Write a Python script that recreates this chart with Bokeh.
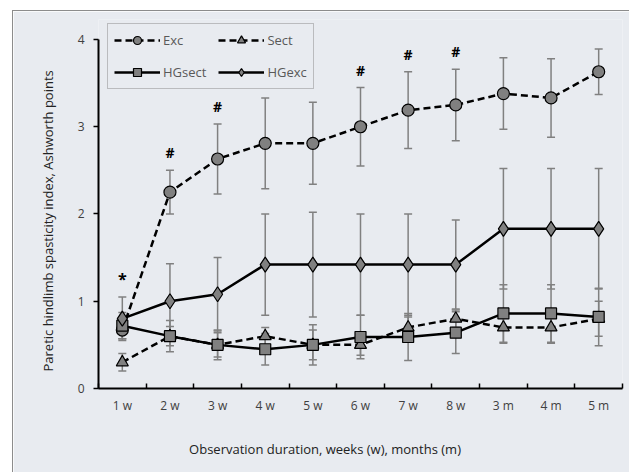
import numpy as np
from bokeh.plotting import figure
from bokeh.models import (ColumnDataSource, Whisker, TeeHead, FixedTicker, Legend, LegendItem, Range1d)
from bokeh.core.properties import value
from bokeh.embed import file_html
from bokeh.resources import INLINE

categories = ["1 w", "2 w", "3 w", "4 w", "5 w", "6 w", "7 w", "8 w", "3 m", "4 m", "5 m"]

exc = [0.67, 2.25, 2.63, 2.81, 2.81, 3.00, 3.19, 3.25, 3.38, 3.33, 3.63]
exc_err = [0.10, 0.25, 0.40, 0.52, 0.47, 0.45, 0.44, 0.41, 0.41, 0.45, 0.26]

sect = [0.30, 0.60, 0.50, 0.60, 0.50, 0.50, 0.70, 0.80, 0.70, 0.70, 0.80]
sect_err = [0.10, 0.11, 0.17, 0.10, 0.23, 0.12, 0.12, 0.10, 0.18, 0.18, 0.20]

hgsect = [0.72, 0.60, 0.50, 0.45, 0.50, 0.59, 0.59, 0.64, 0.86, 0.86, 0.82]
hgsect_err = [0.15, 0.18, 0.14, 0.18, 0.17, 0.25, 0.27, 0.24, 0.33, 0.33, 0.33]

hgexc = [0.80, 1.00, 1.08, 1.42, 1.42, 1.42, 1.42, 1.42, 1.83, 1.83, 1.83]
hgexc_err = [0.25, 0.43, 0.42, 0.58, 0.60, 0.58, 0.58, 0.51, 0.69, 0.69, 0.69]

hash_marks = ["2 w", "3 w", "6 w", "7 w", "8 w"]
star_marks = ["1 w"]

x_label = "Observation duration, weeks (w), months (m)"
y_label = "Paretic hindlimb spasticity index, Ashworth points"

BG = "#e8ebf0"
GREY = "#808080"
NBSP = "\u00a0"

x = np.arange(1, len(categories) + 1)

p = figure(width=617, height=462, output_backend="svg", toolbar_location=None,
           x_range=Range1d(0.5, len(categories) + 0.5), y_range=Range1d(0, 4.229),
           min_border_left=85, min_border_right=8, min_border_top=8, min_border_bottom=85)
p.styles = {"margin-left": "12px", "margin-top": "10px",
            "border-left": "1px solid #8c8c8c", "border-top": "1px solid #8c8c8c"}
p.background_fill_color = BG
p.border_fill_color = BG
p.outline_line_color = None
p.xgrid.visible = False
p.ygrid.visible = False

FONT = "Open Sans"

# axes
p.xaxis.ticker = FixedTicker(ticks=list(x), minor_ticks=list(np.arange(0.5, len(categories) + 1, 1.0)))
p.xaxis.major_label_overrides = {int(i): c for i, c in zip(x, categories)}
p.xaxis.major_tick_in = 0
p.xaxis.major_tick_out = 0
p.xaxis.minor_tick_in = 5
p.xaxis.minor_tick_out = 0
p.xaxis.minor_tick_line_color = "black"
p.xaxis.minor_tick_line_width = 1.5
p.xaxis.axis_line_width = 2
p.xaxis.axis_line_color = "black"
p.xaxis.major_label_standoff = 8
# label sits left of the plot-area centre, as in the original (padding shifts it)
p.xaxis.axis_label = x_label + NBSP * 21
p.xaxis.axis_label_standoff = 23

p.yaxis.ticker = FixedTicker(ticks=[0, 1, 2, 3, 4])
p.yaxis.bounds = (0, 4)
p.yaxis.minor_tick_line_color = None
p.yaxis.major_tick_in = 0
p.yaxis.major_tick_out = 5
p.yaxis.major_tick_line_width = 1.5
p.yaxis.axis_line_width = 2
p.yaxis.axis_line_color = "black"
p.yaxis.major_label_standoff = 9
p.yaxis.axis_label = y_label + NBSP * 10
p.yaxis.axis_label_standoff = 18

for ax in (p.xaxis[0], p.yaxis[0]):
    ax.major_label_text_font = FONT
    ax.major_label_text_font_size = "12px"
    ax.major_label_text_color = "#404040"
    ax.axis_label_text_font = FONT
    ax.axis_label_text_font_style = "normal"
    ax.axis_label_text_color = "#222222"
    ax.axis_label_text_font_size = "13px"

series = [
    ("Exc", exc, exc_err, "7 4", "circle", 12),
    ("Sect", sect, sect_err, "7 4", "triangle", 12),
    ("HGsect", hgsect, hgsect_err, "solid", "square", 11),
    ("HGexc", hgexc, hgexc_err, "solid", "diamond", 15),
]

items = {}
sources = {}
for name, vals, errs, dash, marker, size in series:
    v = np.array(vals)
    e = np.array(errs)
    src = ColumnDataSource(dict(x=x, y=v, upper=v + e, lower=v - e))
    sources[name] = src
    w = Whisker(base="x", upper="upper", lower="lower", source=src,
                line_color=GREY, line_width=1.5,
                upper_head=TeeHead(size=8, line_color=GREY, line_width=1.5),
                lower_head=TeeHead(size=8, line_color=GREY, line_width=1.5))
    p.add_layout(w)

for name, vals, errs, dash, marker, size in series:
    src = sources[name]
    ln = p.line("x", "y", source=src, line_color="black", line_width=2.5, line_dash=dash)
    sc = p.scatter("x", "y", source=src, marker=marker, size=size,
                   fill_color=GREY, line_color="black", line_width=1.2)
    items[name] = LegendItem(label=name, renderers=[ln, sc])

# significance marks
cat_idx = {c: i for i, c in enumerate(categories)}
hx = [cat_idx[c] + 1 for c in hash_marks]
hy = [exc[cat_idx[c]] + exc_err[cat_idx[c]] + 0.2 for c in hash_marks]
p.text(x=hx, y=hy, text=["#"] * len(hx), text_align="center", text_baseline="middle",
       text_font=value(FONT), text_font_size="14px", text_font_style="bold", text_color="black")
sx = [cat_idx[c] + 1 for c in star_marks]
sy = [hgexc[cat_idx[c]] + hgexc_err[cat_idx[c]] + 0.2 for c in star_marks]
p.text(x=sx, y=sy, text=["*"] * len(sx), text_align="center", text_baseline="middle",
       text_font=value(FONT), text_font_size="16px", text_font_style="bold", text_color="black")

# column-major fill: col 1 = Exc, HGsect ; col 2 = Sect, HGexc
legend = Legend(items=[items["Exc"], items["HGsect"], items["Sect"], items["HGexc"]],
                location=(9, 299), ncols=2)
legend.background_fill_color = BG
legend.background_fill_alpha = 1
legend.border_line_color = "#8c8c8c"
legend.border_line_width = 1
legend.label_text_font = FONT
legend.label_text_font_size = "13px"
legend.label_text_color = "#595959"
legend.glyph_width = 46
legend.glyph_height = 20
legend.label_standoff = 3
legend.spacing = 12
legend.padding = 6
legend.margin = 0
p.add_layout(legend)

open("out.html", "w").write(file_html(p, INLINE))
